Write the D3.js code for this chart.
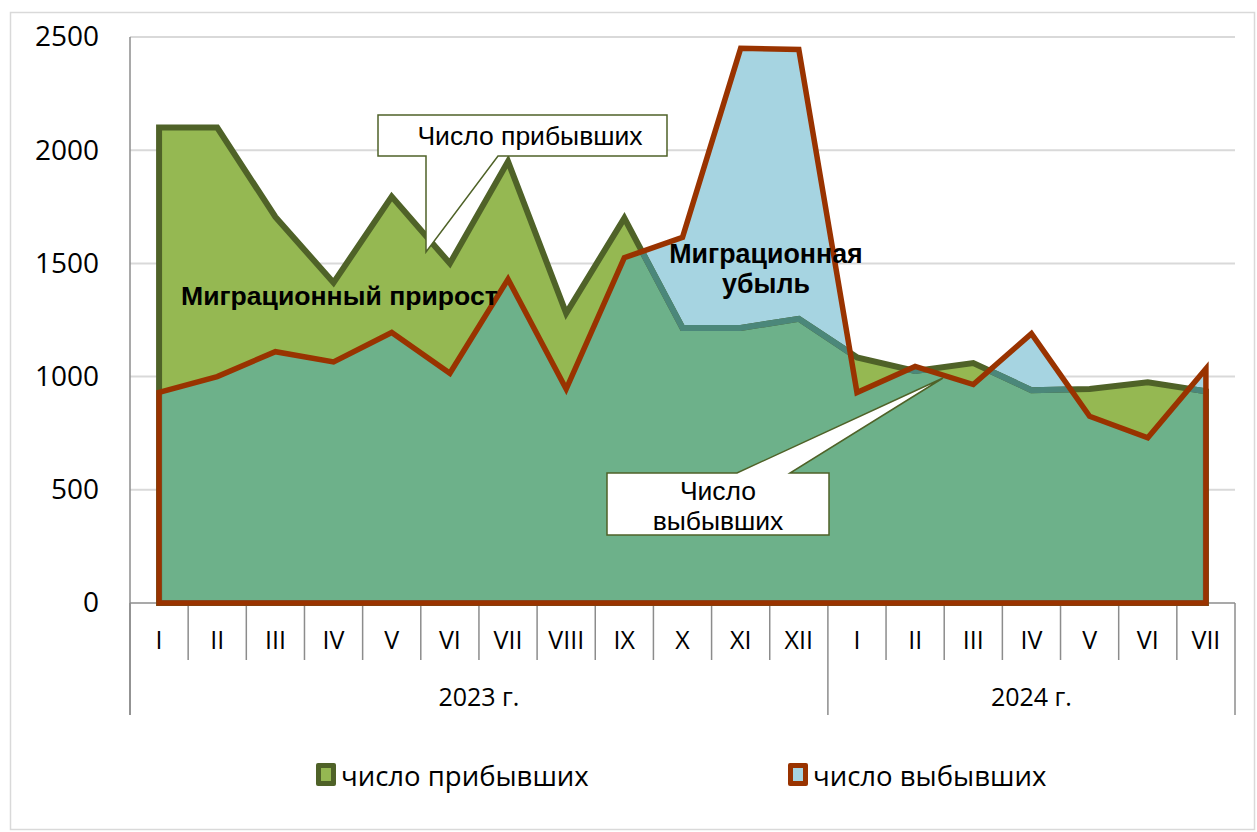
<!DOCTYPE html>
<html>
<head>
<meta charset="utf-8">
<script src="https://cdn.jsdelivr.net/npm/d3@7.9.0/dist/d3.min.js"></script>
<style>
  body { margin: 0; background: #fff; }
  svg { display: block; }
</style>
</head>
<body>
<div id="chart"></div>
<script>
// data
const months = ["I", "II", "III", "IV", "V", "VI", "VII", "VIII", "IX", "X", "XI", "XII",
                "I", "II", "III", "IV", "V", "VI", "VII"];
const yearLabels = ["2023 г.", "2024 г."];
const yearSpans = [12, 7];
const arrivals   = [2100, 2100, 1705, 1415, 1795, 1500, 1950, 1280, 1700, 1215, 1215, 1255,
                    1085, 1025, 1060, 940, 945, 975, 935];
const departures = [930, 1000, 1110, 1065, 1195, 1015, 1430, 945, 1525, 1615, 2450, 2445,
                    930, 1045, 965, 1190, 825, 730, 1035];
const yTicks = [0, 500, 1000, 1500, 2000, 2500];
const seriesNames = ["число прибывших", "число выбывших"];

const W = 1257, H = 832;
const plotL = 130, plotR = 1235, plotT = 37, plotB = 603;

const colArrFill = "#95b852", colArrLine = "#4f6228";
const colDepFill = "#a6d4e1", colDepLine = "#993300";
const colOverlap = "#6db18a", colHidden = "#4b877a";

const svg = d3.select("#chart").append("svg")
  .attr("width", W)
  .attr("height", H);

// outer frame
svg.append("rect")
  .attr("x", 10.5).attr("y", 12.5)
  .attr("width", 1244).attr("height", 817)
  .attr("fill", "#fff")
  .attr("stroke", "#d9d9d9")
  .attr("stroke-width", 1.5);

const idx = d3.range(months.length);
const x = d3.scaleBand().domain(idx).range([plotL, plotR]).paddingInner(0).paddingOuter(0);
const cx = i => x(i) + x.bandwidth() / 2;
const y = d3.scaleLinear().domain([0, 2500]).range([plotB, plotT]);

// gridlines
svg.append("g")
  .selectAll("line")
  .data(yTicks.filter(d => d > 0))
  .join("line")
    .attr("x1", plotL).attr("x2", plotR)
    .attr("y1", d => y(d)).attr("y2", d => y(d))
    .attr("stroke", "#d9d9d9")
    .attr("stroke-width", 2);

// y labels
const yAxisG = svg.append("g")
  .attr("transform", `translate(${plotL},0)`)
  .call(d3.axisLeft(y).tickValues(yTicks).tickSize(0).tickPadding(31).tickFormat(d3.format("d")));
yAxisG.select(".domain").remove();
yAxisG.selectAll(".tick text")
  .attr("font-family", "'Open Sans', sans-serif")
  .attr("font-size", 28)
  .attr("fill", "#000");

// axis lines
svg.append("line")
  .attr("x1", plotL).attr("x2", plotL)
  .attr("y1", plotT).attr("y2", 715)
  .attr("stroke", "#8c8c8c").attr("stroke-width", 1.5);
svg.append("line")
  .attr("x1", plotL).attr("x2", plotR)
  .attr("y1", plotB).attr("y2", plotB)
  .attr("stroke", "#8c8c8c").attr("stroke-width", 1.5);

// category separators (longer ones at year boundaries)
const yearBounds = [0];
yearSpans.forEach(s => yearBounds.push(yearBounds[yearBounds.length - 1] + s));
const bx = i => i < months.length ? x(i) : plotR;
svg.append("g")
  .selectAll("line")
  .data(d3.range(months.length + 1))
  .join("line")
    .attr("x1", d => bx(d)).attr("x2", d => bx(d))
    .attr("y1", plotB)
    .attr("y2", d => yearBounds.includes(d) ? 715 : 660)
    .attr("stroke", "#8c8c8c").attr("stroke-width", 1.5);

// month labels
const xAxisG = svg.append("g")
  .attr("transform", `translate(0,640)`)
  .call(d3.axisBottom(x).tickSize(0).tickPadding(0).tickFormat(i => months[i]));
xAxisG.select(".domain").remove();
xAxisG.selectAll(".tick text")
  .attr("y", 0).attr("dy", "0.35em")
  .attr("font-family", "'Open Sans', sans-serif")
  .attr("font-size", 25)
  .attr("fill", "#000");

// year labels
svg.append("g")
  .selectAll("text")
  .data(yearLabels)
  .join("text")
    .attr("x", (d, k) => (bx(yearBounds[k]) + bx(yearBounds[k + 1])) / 2)
    .attr("y", 697)
    .attr("dy", "0.35em")
    .attr("text-anchor", "middle")
    .attr("font-family", "'Open Sans', sans-serif")
    .attr("font-size", 25)
    .text(d => d);

// areas
const area = vals => d3.area()
  .x(i => cx(i))
  .y0(y(0))
  .y1(i => y(vals[i]))(idx);

const defs = svg.append("defs");
defs.append("clipPath").attr("id", "depClip")
  .append("path").attr("d", area(departures));

const plot = svg.append("g");
plot.append("path").attr("d", area(arrivals)).attr("fill", colArrFill);
plot.append("path").attr("d", area(departures)).attr("fill", colDepFill);
plot.append("path").attr("d", area(arrivals)).attr("fill", colOverlap)
  .attr("clip-path", "url(#depClip)");

plot.append("path").attr("d", area(arrivals))
  .attr("fill", "none").attr("stroke", colArrLine)
  .attr("stroke-width", 6).attr("stroke-linejoin", "miter");
plot.append("path").attr("d", area(arrivals))
  .attr("fill", "none").attr("stroke", colHidden)
  .attr("stroke-width", 6).attr("stroke-linejoin", "miter")
  .attr("clip-path", "url(#depClip)");
plot.append("path").attr("d", area(departures))
  .attr("fill", "none").attr("stroke", colDepLine)
  .attr("stroke-width", 5.5).attr("stroke-linejoin", "miter");

// text annotations in the areas
svg.append("text")
  .attr("x", 181).attr("y", 305)
  .attr("font-family", "'Liberation Sans', Arial, sans-serif")
  .attr("font-weight", "bold")
  .attr("font-size", 26.6)
  .text("Миграционный прирост");

svg.append("text")
  .attr("x", 766).attr("y", 263)
  .attr("text-anchor", "middle")
  .attr("font-family", "'Liberation Sans', Arial, sans-serif")
  .attr("font-weight", "bold")
  .attr("font-size", 26.8)
  .call(t => {
    t.append("tspan").attr("x", 766).text("Миграционная");
    t.append("tspan").attr("x", 766).attr("dy", 30).text("убыль");
  });

// callouts
svg.append("path")
  .attr("d", "M378,115 H667 V156 H498 L426,252 V156 H378 Z")
  .attr("fill", "#fff").attr("stroke", colArrLine).attr("stroke-width", 1.5);
svg.append("text")
  .attr("x", 530).attr("y", 145)
  .attr("text-anchor", "middle")
  .attr("font-family", "'Liberation Sans', Arial, sans-serif")
  .attr("font-size", 26.5)
  .text("Число прибывших");

svg.append("path")
  .attr("d", "M607,473 H737 L943,378 L790,473 H829 V535 H607 Z")
  .attr("fill", "#fff").attr("stroke", colArrLine).attr("stroke-width", 1.5);
svg.append("text")
  .attr("x", 718).attr("y", 500)
  .attr("text-anchor", "middle")
  .attr("font-family", "'Liberation Sans', Arial, sans-serif")
  .attr("font-size", 26.5)
  .call(t => {
    t.append("tspan").attr("x", 718).text("Число");
    t.append("tspan").attr("x", 718).attr("dy", 30).text("выбывших");
  });

// legend
const legendItems = [
  { name: seriesNames[0], x: 316, outer: colArrLine, inner: colArrFill },
  { name: seriesNames[1], x: 788, outer: colDepLine, inner: colDepFill }
];
const lg = svg.append("g").selectAll("g").data(legendItems).join("g")
  .attr("transform", d => `translate(${d.x},763)`);
lg.append("rect")
  .attr("width", 20).attr("height", 23).attr("rx", 2)
  .attr("fill", d => d.outer);
lg.append("rect")
  .attr("x", 5).attr("y", 5).attr("width", 10).attr("height", 13)
  .attr("fill", d => d.inner);
lg.append("text")
  .attr("x", 25).attr("y", 23)
  .attr("font-family", "'Open Sans', sans-serif")
  .attr("font-size", 27.5)
  .text(d => d.name);
</script>
</body>
</html>
